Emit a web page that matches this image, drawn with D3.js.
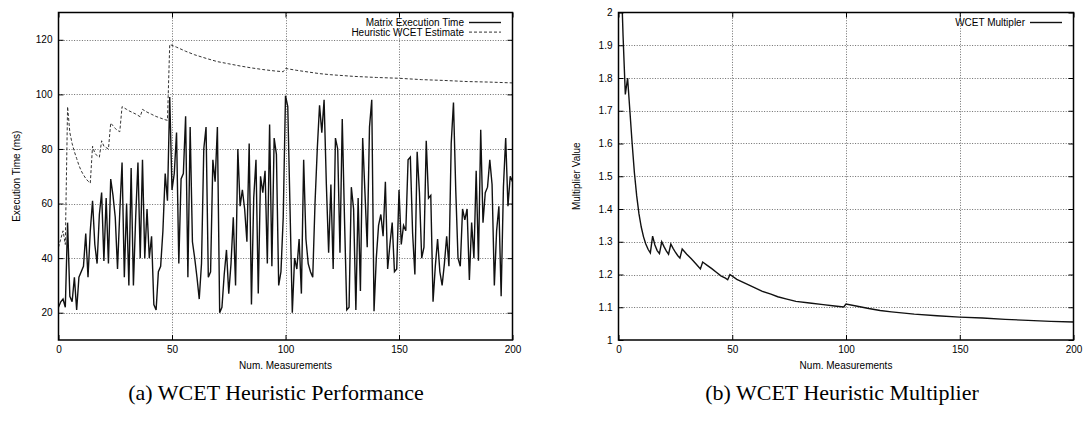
<!DOCTYPE html>
<html><head><meta charset="utf-8">
<script src="https://cdn.jsdelivr.net/npm/d3@7"></script>
<style>
body{margin:0;background:#fff}
</style>
</head><body>
<svg id="c" width="1087" height="425"></svg>
<script>
// ---------- data ----------
// Matrix execution time, one value per measurement 0..200 (ms)
const execTime = [
 22,24,25,22,53,26,24,33,21,33, 35,37,49,33,50,61,45,38,56,64,
 39,62,38,69,63,55,36,57,75,33, 60,30,73,30,55,75,40,76,40,58,
 40,48,23,21,35,37,50,71,61,99, 65,71,86,38,69,71,92,33,88,46,
 40,33,25,38,80,88,33,35,76,68, 88,20,22,34,43,27,38,55,30,80,
 59,65,58,46,82,23,62,76,27,70, 64,72,38,89,37,84,78,30,35,55,
 99.5,95.5,58,20,40,36,47,27,76,47, 38,35,33,60,80,96,86,98,67,42,
 67,36,84,80,42,91,54,21,22,66, 58,21,62,28,84,64,44,88,98,20.5,
 40,52,56,48,68,36,45,53,35,36, 65,45,52,50,76,77,49,34,79,64,
 40,44,83,62,63,24,37,47,35,30, 38,48,37,82,97,65,40,37,58,54,
 58,32,53,40,72,39,87,53,64,66, 76,67,30,50,59,26,66,84,59,70,
 68
];
// Heuristic WCET estimate (ms), read at these measurement numbers
const estimateX = [0,1,2,3,4,5,6,7,8,9,10,11,12,13,14,15,16,17,18,19,20,21,22,23,24,25,26,27,28,29,30,31,32,33,34,35,36,37,38,39,40,41,42,43,44,45,46,47,48,49,52,56,60,65,70,75,80,85,90,95,99,100,105,110,115,120,130,140,150,160,170,180,190,200];
const estimateY = [44,47,50,45,95.5,86,82,79,76.5,74,72,70.5,69.2,68.2,67.5,81,78.5,77.5,77,83,81,80.5,80,89.5,88.5,87.5,86.8,86.3,95.5,95,94.5,94,93.6,93.2,92.8,92.3,91.8,94.5,94,93.5,93.1,92.7,92.3,91.9,91.6,91.3,91,90.7,90.5,118.3,117.3,115.8,114.5,113.2,112,111.2,110.4,109.7,109.1,108.6,108.3,109.5,108.8,108.2,107.6,107.2,106.6,106.2,105.9,105.4,105.1,104.7,104.5,104.2];
// WCET multiplier, read at these measurement numbers
const multX = [0,1,2,3,4,5,6,7,8,9,10,11,12,13,14,15,16,17,18,19,20,21,22,23,24,25,26,27,28,30,32,34,36,37,39,41,43,45,47,48,49,52,56,60,63,67,70,74,78,84,90,95,99,100,105,110,115,120,130,140,150,160,170,180,190,200];
const multY = [2.4,2.15,1.93,1.75,1.8,1.7,1.6,1.51,1.44,1.385,1.345,1.315,1.293,1.277,1.266,1.317,1.29,1.273,1.264,1.3,1.285,1.272,1.262,1.293,1.28,1.268,1.258,1.25,1.278,1.262,1.248,1.233,1.217,1.238,1.228,1.218,1.207,1.196,1.189,1.184,1.2,1.185,1.172,1.159,1.149,1.14,1.132,1.125,1.118,1.113,1.108,1.104,1.101,1.11,1.103,1.096,1.09,1.086,1.079,1.074,1.07,1.067,1.063,1.06,1.057,1.055];

const xTicks = [0,50,100,150,200];
const leftYTicks = [20,40,60,80,100,120];
const rightYTicks = [1,1.1,1.2,1.3,1.4,1.5,1.6,1.7,1.8,1.9,2];
const xLabel = "Num. Measurements";
const leftYLabel = "Execution Time (ms)";
const rightYLabel = "Multiplier Value";
const leftLegend = ["Matrix Execution Time","Heuristic WCET Estimate"];
const rightLegend = ["WCET Multipler"];
const captions = ["(a) WCET Heuristic Performance","(b) WCET Heuristic Multiplier"];

// ---------- drawing ----------
const svg = d3.select("#c");
const plotTop = 12.5, plotBottom = 340;
const SANS = '"Liberation Sans",Arial,Helvetica,sans-serif';
const SERIF = '"Liberation Serif","Times New Roman",serif';

function panel(cfg){
  const g = svg.append("g").style("font-family",SANS);
  const x = d3.scaleLinear().domain([0,200]).range([cfg.left,cfg.right]);
  const y = d3.scaleLinear().domain(cfg.ydom).range([plotBottom,plotTop]);
  const W = cfg.right-cfg.left, H = plotBottom-plotTop;
  const id = "clip"+cfg.name;
  svg.append("clipPath").attr("id",id).append("rect")
     .attr("x",cfg.left).attr("y",plotTop).attr("width",W).attr("height",H);

  // grid
  const grid = g.append("g").attr("stroke","#6d6d6d").attr("stroke-width",1)
     .attr("stroke-dasharray","1,1.6").attr("fill","none");
  grid.selectAll("line.h").data(cfg.yticks.filter(d=>d>cfg.ydom[0]&&d<cfg.ydom[1])).join("line")
     .attr("x1",cfg.left).attr("x2",cfg.right)
     .attr("y1",d=>Math.round(y(d))+0.5).attr("y2",d=>Math.round(y(d))+0.5);
  grid.selectAll("line.v").data(xTicks.filter(d=>d>0&&d<200)).join("line")
     .attr("y1",plotTop).attr("y2",plotBottom)
     .attr("x1",d=>Math.round(x(d))+0.5).attr("x2",d=>Math.round(x(d))+0.5);

  // data
  const dg = g.append("g").attr("clip-path",`url(#${id})`);
  cfg.series.forEach(s=>{
    const line = d3.line().x(d=>x(d[0])).y(d=>y(d[1]));
    dg.append("path").datum(s.pts).attr("d",line).attr("fill","none")
      .attr("stroke",s.color).attr("stroke-width",s.w)
      .attr("stroke-dasharray",s.dash||null).attr("stroke-linejoin","miter");
  });

  // axes with inward ticks
  const ax = (axis,tr)=>{
    const a = g.append("g").attr("transform",tr).call(axis);
    a.select(".domain").remove();
    a.selectAll("line").attr("stroke","#000").attr("stroke-width",1);
    a.selectAll("text").attr("fill","#000").style("font-size","10px").style("font-family",SANS);
    return a;
  };
  ax(d3.axisBottom(x).tickValues(xTicks).tickSizeInner(-5).tickSizeOuter(0).tickPadding(6),`translate(0,${plotBottom})`);
  ax(d3.axisTop(x).tickValues(xTicks).tickSizeInner(-5).tickSizeOuter(0).tickFormat(""),`translate(0,${plotTop})`);
  ax(d3.axisLeft(y).tickValues(cfg.yticks).tickSizeInner(-5).tickSizeOuter(0).tickPadding(6).tickFormat(cfg.fmt),`translate(${cfg.left},0)`);
  ax(d3.axisRight(y).tickValues(cfg.yticks).tickSizeInner(-5).tickSizeOuter(0).tickFormat(""),`translate(${cfg.right},0)`);

  // border
  g.append("rect").attr("x",cfg.left).attr("y",plotTop).attr("width",W).attr("height",H)
    .attr("fill","none").attr("stroke","#000").attr("stroke-width",1.5);

  // labels
  g.append("text").attr("x",(cfg.left+cfg.right)/2).attr("y",369).attr("text-anchor","middle")
    .style("font-size","10px").text(xLabel);
  g.append("text").attr("transform",`translate(${cfg.ylabX},${(plotTop+plotBottom)/2}) rotate(-90)`)
    .attr("text-anchor","middle").style("font-size","10px").text(cfg.ylabel);

  // legend
  cfg.legend.forEach((l,i)=>{
    const yy = 26 + i*9.6;
    g.append("text").attr("x",cfg.legX).attr("y",yy).attr("text-anchor","end")
      .style("font-size","10px").text(l.t);
    g.append("line").attr("x1",cfg.legX+5).attr("x2",cfg.legX+37).attr("y1",yy-3.5).attr("y2",yy-3.5)
      .attr("stroke",l.color).attr("stroke-width",l.w).attr("stroke-dasharray",l.dash||null);
  });

  // caption
  svg.append("text").attr("x",cfg.capX).attr("y",400).attr("text-anchor","middle")
    .style("font-family",SERIF).style("font-size","22px")
    .attr("fill","#000").text(cfg.caption);
}

panel({
  name:"a", left:58.5, right:512.5, ydom:[10,130], yticks:leftYTicks, fmt:d=>d,
  ylabel:leftYLabel, ylabX:20, legX:464, capX:276, caption:captions[0],
  series:[
    {pts:execTime.map((v,i)=>[i,v]), color:"#111", w:1.4},
    {pts:estimateX.map((v,i)=>[v,estimateY[i]]), color:"#333", w:1, dash:"3,2"}
  ],
  legend:[{t:leftLegend[0],color:"#111",w:1.4},{t:leftLegend[1],color:"#333",w:1,dash:"3,2"}]
});
panel({
  name:"b", left:618.5, right:1073.5, ydom:[1,2], yticks:rightYTicks, fmt:d=>String(d),
  ylabel:rightYLabel, ylabX:580, legX:1025, capX:842, caption:captions[1],
  series:[{pts:multX.map((v,i)=>[v,multY[i]]), color:"#111", w:1.4}],
  legend:[{t:rightLegend[0],color:"#111",w:1.4}]
});
</script>
</body></html>
